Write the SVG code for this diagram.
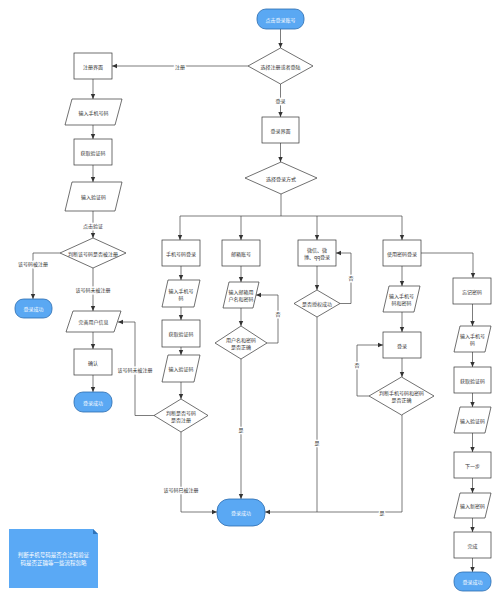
<svg xmlns="http://www.w3.org/2000/svg" width="500" height="600" viewBox="0 0 500 600">
<defs>
<marker id="ar" markerWidth="6" markerHeight="6" refX="5" refY="3" orient="auto" markerUnits="userSpaceOnUse">
<path d="M0,0.8 L5,3 L0,5.2 Z" fill="#333"/>
</marker>
<style>
.b{fill:#fff;stroke:#333;stroke-width:0.7}
.t{fill:#5aa8f3;stroke:#2c6cae;stroke-width:0.8}
.l{fill:none;stroke:#444;stroke-width:0.7}
.a{fill:none;stroke:#444;stroke-width:0.7;marker-end:url(#ar)}
text{font-family:"Noto Sans CJK SC","Noto Sans",sans-serif;font-size:5px;fill:#333;text-anchor:middle;dominant-baseline:central}
.w{fill:#fff}
.lb{paint-order:stroke;stroke:#fff;stroke-width:2.5px}
</style>
</defs>
<rect width="500" height="600" fill="#fff"/>
<g id="connectors">
<path class="a" d="M280.5,29 V48"/>
<path class="a" d="M248,66 H112"/>
<path class="a" d="M280.5,84 V117"/>
<path class="a" d="M280.5,143 V162"/>
<path class="l" d="M281,194 V216 M180,216 H402"/>
<path class="a" d="M180,216 V240"/>
<path class="a" d="M241,216 V240"/>
<path class="a" d="M317,216 V240"/>
<path class="a" d="M402,216 V240"/>
<path class="a" d="M93,79 V99"/>
<path class="a" d="M93,125 V139"/>
<path class="a" d="M93,165 V182"/>
<path class="a" d="M93,211 V238"/>
<path class="a" d="M60,253 H33 V299"/>
<path class="a" d="M93,268 V311"/>
<path class="a" d="M93,332 V349"/>
<path class="a" d="M93,375 V392"/>
<path class="a" d="M181,266 V280"/>
<path class="a" d="M181,307 V320"/>
<path class="a" d="M181,347 V355"/>
<path class="a" d="M181,382 V399"/>
<path class="a" d="M154,415.5 H135 V322 H118"/>
<path class="a" d="M181,432 V512 H217"/>
<path class="a" d="M241,266 V282"/>
<path class="a" d="M241,308 V326"/>
<path class="a" d="M267,343 H278 V295 H256"/>
<path class="a" d="M241,359 V499"/>
<path class="a" d="M317,266 V290"/>
<path class="a" d="M340,303.5 H351 V253 H336"/>
<path class="l" d="M317,317 V512"/>
<path class="a" d="M421,253 H473 V278"/>
<path class="a" d="M402,266 V286"/>
<path class="a" d="M402,312 V332"/>
<path class="a" d="M402,358 V377"/>
<path class="a" d="M369,396 H357 V345 H383"/>
<path class="a" d="M402,415 V512 H265"/>
<path class="a" d="M472.5,304 V326"/>
<path class="a" d="M472.5,352 V367"/>
<path class="a" d="M472.5,393 V407"/>
<path class="a" d="M472.5,433 V452"/>
<path class="a" d="M472.5,478 V493"/>
<path class="a" d="M472.5,518 V532"/>
<path class="a" d="M472.5,558 V572"/>
<text class="lb" x="180" y="66">注册</text>
<text class="lb" x="280.5" y="100">登录</text>
<text class="lb" x="93" y="225">点击验证</text>
<text class="lb" x="33" y="263">该号码被注册</text>
<text class="lb" x="93" y="289">该号码未被注册</text>
<text class="lb" x="135" y="369">该号码未被注册</text>
<text class="lb" x="181" y="489">该号码已被注册</text>
<text class="lb" x="278" y="313">否</text>
<text class="lb" x="241" y="429">是</text>
<text class="lb" x="351" y="277">否</text>
<text class="lb" x="317" y="442">是</text>
<text class="lb" x="357" y="364">否</text>
<text class="lb" x="382" y="512">是</text>
</g>
<g id="start"><rect class="t" x="257" y="9" width="47" height="20" rx="9"/><text class="w" x="280.5" y="19">点击登录账号</text></g>
<g id="d-choose"><polygon class="b" points="280.5,48 313,66 280.5,84 248,66"/><text x="280.5" y="66">选择注册或者登陆</text></g>
<g id="login-ui"><rect class="b" x="262" y="117" width="37" height="26"/><text x="280.5" y="130">登录界面</text></g>
<g id="d-method"><polygon class="b" points="281,162 317,178 281,194 245,178"/><text x="281" y="178">选择登录方式</text></g>

<g id="reg-ui"><rect class="b" x="74" y="53" width="38" height="26"/><text x="93" y="66">注册界面</text></g>
<g id="reg-phone"><polygon class="b" points="72,99 122,99 115,125 65,125"/><text x="93.5" y="112">输入手机号码</text></g>
<g id="reg-getcode"><rect class="b" x="74" y="139" width="38" height="26"/><text x="93" y="152">获取验证码</text></g>
<g id="reg-code"><polygon class="b" points="72,182 122,182 115,211 65,211"/><text x="93.5" y="196.5">输入验证码</text></g>
<g id="d-reg"><polygon class="b" points="93,238 126,253 93,268 60,253"/><text x="93" y="253">判断该号码是否被注册</text></g>
<g id="ok-1"><rect class="t" x="15" y="299" width="37" height="19" rx="8.5"/><text class="w" x="33.5" y="308.5">登录成功</text></g>
<g id="reg-info"><polygon class="b" points="73,311 121,311 114,332 66,332"/><text x="93.5" y="321.5">完善用户信息</text></g>
<g id="reg-confirm"><rect class="b" x="74" y="349" width="38" height="26"/><text x="93" y="362">确认</text></g>
<g id="ok-2"><rect class="t" x="74" y="392" width="38" height="20" rx="9"/><text class="w" x="93" y="402">登录成功</text></g>

<g id="phone-login"><rect class="b" x="162" y="240" width="38" height="26"/><text x="181" y="253">手机号码登录</text></g>
<g id="p-phone"><polygon class="b" points="168,280 200,280 194,307 162,307"/><text x="181" y="290">输入手机号</text><text x="181" y="297">码</text></g>
<g id="p-getcode"><rect class="b" x="162" y="320" width="38" height="27"/><text x="181" y="333.5">获取验证码</text></g>
<g id="p-code"><polygon class="b" points="168,355 200,355 194,382 162,382"/><text x="181" y="368.5">输入验证码</text></g>
<g id="d-p"><polygon class="b" points="181,399 208,415.5 181,432 154,415.5"/><text x="181" y="412">判断是否号码</text><text x="181" y="419">是否注册</text></g>

<g id="mail-login"><rect class="b" x="222" y="240" width="38" height="26"/><text x="241" y="253">邮箱账号</text></g>
<g id="m-input"><polygon class="b" points="229,282 259,282 253,308 223,308"/><text x="241" y="291.5">输入邮箱用</text><text x="241" y="298.5">户名和密码</text></g>
<g id="d-m"><polygon class="b" points="241,326 267,343 241,359 215,343"/><text x="241" y="339.5">用户名和密码</text><text x="241" y="346.5">是否正确</text></g>
<g id="ok-main"><rect class="t" x="217" y="499" width="48" height="27" rx="12"/><text class="w" x="241" y="512.5">登录成功</text></g>

<g id="social-login"><rect class="b" x="298" y="240" width="38" height="26"/><text x="317" y="249.5">微信、微</text><text x="317" y="256.5">博、qq登录</text></g>
<g id="d-s"><polygon class="b" points="317,290 340,303.5 317,317 294,303.5"/><text x="317" y="303.5">是否授权成功</text></g>

<g id="pwd-login"><rect class="b" x="383" y="240" width="38" height="26"/><text x="402" y="253">使用密码登录</text></g>
<g id="w-input"><polygon class="b" points="389,286 420,286 414,312 383,312"/><text x="401.5" y="295.5">输入手机号</text><text x="401.5" y="302.5">码和密码</text></g>
<g id="w-login"><rect class="b" x="383" y="332" width="38" height="26"/><text x="402" y="345">登录</text></g>
<g id="d-w"><polygon class="b" points="401.5,377 434,396 401.5,415 369,396"/><text x="401.5" y="392.5">判断手机号码和密码</text><text x="401.5" y="399.5">是否正确</text></g>

<g id="forget"><rect class="b" x="453" y="278" width="38" height="26"/><text x="472" y="291">忘记密码</text></g>
<g id="f-phone"><polygon class="b" points="460,326 491,326 485,352 454,352"/><text x="472.5" y="335.5">输入手机号</text><text x="472.5" y="342.5">码</text></g>
<g id="f-getcode"><rect class="b" x="454" y="367" width="37" height="26"/><text x="472.5" y="380">获取验证码</text></g>
<g id="f-code"><polygon class="b" points="460,407 491,407 485,433 454,433"/><text x="472.5" y="420">输入验证码</text></g>
<g id="f-next"><rect class="b" x="454" y="452" width="37" height="26"/><text x="472.5" y="465">下一步</text></g>
<g id="f-newpwd"><polygon class="b" points="460,493 491,493 485,518 454,518"/><text x="472.5" y="505.5">输入新密码</text></g>
<g id="f-done"><rect class="b" x="454" y="532" width="37" height="26"/><text x="472.5" y="545">完成</text></g>
<g id="ok-f"><rect class="t" x="454" y="572" width="37" height="19" rx="8.5"/><text class="w" x="472.5" y="581.5">登录成功</text></g>

<g id="note"><polygon fill="#5aa9f5" points="9,529 93,529 98,534 98,588 9,588"/><polygon fill="#2f72b8" points="93,529 98,534 93,534"/><text class="w" x="53.5" y="555" style="font-size:5.5px">判断手机号码是否合法和验证</text><text class="w" x="53.5" y="563" style="font-size:5.5px">码是否正确等一些流程忽略</text></g>
</svg>
